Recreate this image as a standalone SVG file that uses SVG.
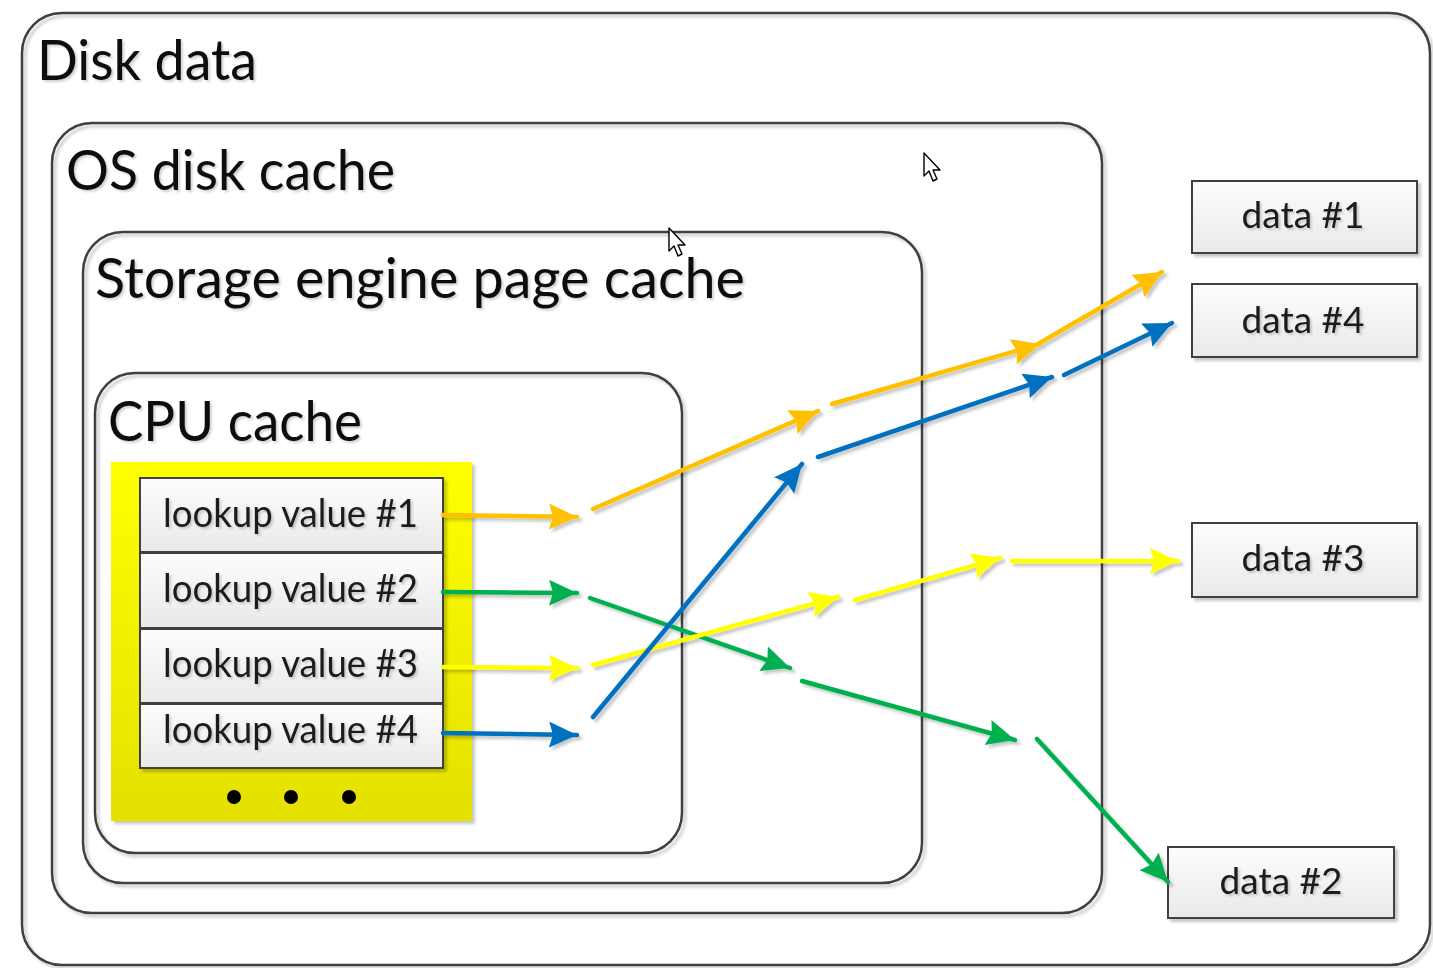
<svg xmlns="http://www.w3.org/2000/svg" width="1433" height="968" viewBox="0 0 1433 968">
  <style>
    .frame { fill: none; stroke: #3f3f3f; stroke-width: 2.5; }
    .title { font-family: Lato, "Liberation Sans", sans-serif; fill: #111; }
    .cell { fill: url(#cellFill); stroke: #3f3f3f; stroke-width: 2; }
    .label { font-family: Lato, "Liberation Sans", sans-serif; font-size: 38px; fill: #1a1a1a; }
    .data-label { text-anchor: middle; font-size: 37px; }
    .link { fill: none; stroke-width: 4.5; stroke-linecap: round; }
    .orange { stroke: #FFC000; }
    .green { stroke: #00B050; }
    .yellow { stroke: #FFFF00; }
    .blue { stroke: #0070C0; }
    .cursor { fill: #fff; stroke: #000; stroke-width: 1.4; stroke-linejoin: round; }
  </style>
  <defs>
    <linearGradient id="cellFill" x1="0" y1="0" x2="0" y2="1">
      <stop offset="0" stop-color="#FDFDFD"/>
      <stop offset="1" stop-color="#E9E9E9"/>
    </linearGradient>
    <linearGradient id="hotFill" x1="0" y1="0" x2="0" y2="1">
      <stop offset="0" stop-color="#FFFF00"/>
      <stop offset="1" stop-color="#E4E000"/>
    </linearGradient>
    <filter id="shadow" x="-10%" y="-10%" width="130%" height="130%">
      <feDropShadow dx="3" dy="3" stdDeviation="1.6" flood-color="#000" flood-opacity="0.22"/>
    </filter>
    <filter id="textShadow" x="-5%" y="-10%" width="115%" height="130%">
      <feDropShadow dx="2" dy="2" stdDeviation="1" flood-color="#000" flood-opacity="0.18"/>
    </filter>
    <marker id="headOrange" markerUnits="userSpaceOnUse" markerWidth="30" markerHeight="28" refX="28" refY="13" orient="auto">
      <path d="M0,0 L28,13 L0,26 L4,13 z" fill="#FFC000"/>
    </marker>
    <marker id="headGreen" markerUnits="userSpaceOnUse" markerWidth="30" markerHeight="28" refX="28" refY="13" orient="auto">
      <path d="M0,0 L28,13 L0,26 L4,13 z" fill="#00B050"/>
    </marker>
    <marker id="headYellow" markerUnits="userSpaceOnUse" markerWidth="30" markerHeight="28" refX="28" refY="13" orient="auto">
      <path d="M0,0 L28,13 L0,26 L4,13 z" fill="#FFFF00"/>
    </marker>
    <marker id="headBlue" markerUnits="userSpaceOnUse" markerWidth="30" markerHeight="28" refX="28" refY="13" orient="auto">
      <path d="M0,0 L28,13 L0,26 L4,13 z" fill="#0070C0"/>
    </marker>
  </defs>

  <rect width="1433" height="968" fill="#fff"/>

  <!-- nested cache layers -->
  <g id="disk-data">
    <rect class="frame" x="22" y="13" width="1408" height="952" rx="40" filter="url(#shadow)"/>
    <text class="title" x="37" y="80" font-size="56" textLength="220" lengthAdjust="spacingAndGlyphs" filter="url(#textShadow)">Disk data</text>
  </g>
  <g id="os-disk-cache">
    <rect class="frame" x="52" y="123" width="1050" height="790" rx="40" filter="url(#shadow)"/>
    <text class="title" x="66" y="190" font-size="56" textLength="329" lengthAdjust="spacingAndGlyphs" filter="url(#textShadow)">OS disk cache</text>
  </g>
  <g id="storage-engine-page-cache">
    <rect class="frame" x="83" y="232" width="839" height="651" rx="40" filter="url(#shadow)"/>
    <text class="title" x="95" y="298" font-size="56" textLength="650" lengthAdjust="spacingAndGlyphs" filter="url(#textShadow)">Storage engine page cache</text>
  </g>
  <g id="cpu-cache">
    <rect class="frame" x="95" y="373" width="587" height="480" rx="40" filter="url(#shadow)"/>
    <text class="title" x="108" y="441" font-size="56" textLength="254" lengthAdjust="spacingAndGlyphs" filter="url(#textShadow)">CPU cache</text>
  </g>

  <!-- hot lookup set -->
  <g id="lookup-set">
    <rect x="111" y="462" width="361" height="359" fill="url(#hotFill)" filter="url(#shadow)"/>
    <circle cx="234" cy="797" r="7" fill="#000"/>
    <circle cx="291" cy="797" r="7" fill="#000"/>
    <circle cx="349" cy="797" r="7" fill="#000"/>
  </g>
  <g id="lookup-1">
    <rect class="cell" x="140" y="478" width="303" height="74" filter="url(#shadow)"/>
    <text class="label" x="163" y="527" textLength="255" lengthAdjust="spacingAndGlyphs" filter="url(#textShadow)">lookup value #1</text>
  </g>
  <g id="lookup-2">
    <rect class="cell" x="140" y="553" width="303" height="75" filter="url(#shadow)"/>
    <text class="label" x="163" y="602" textLength="255" lengthAdjust="spacingAndGlyphs" filter="url(#textShadow)">lookup value #2</text>
  </g>
  <g id="lookup-3">
    <rect class="cell" x="140" y="629" width="303" height="74" filter="url(#shadow)"/>
    <text class="label" x="163" y="677" textLength="255" lengthAdjust="spacingAndGlyphs" filter="url(#textShadow)">lookup value #3</text>
  </g>
  <g id="lookup-4">
    <rect class="cell" x="140" y="704" width="303" height="64" filter="url(#shadow)"/>
    <text class="label" x="163" y="743" textLength="255" lengthAdjust="spacingAndGlyphs" filter="url(#textShadow)">lookup value #4</text>
  </g>

  <!-- data blocks on disk -->
  <g id="data-1">
    <rect class="cell" x="1192" y="181" width="225" height="72" filter="url(#shadow)"/>
    <text class="label data-label" x="1303" y="228" filter="url(#textShadow)">data #1</text>
  </g>
  <g id="data-4">
    <rect class="cell" x="1192" y="284" width="225" height="73" filter="url(#shadow)"/>
    <text class="label data-label" x="1303" y="333" filter="url(#textShadow)">data #4</text>
  </g>
  <g id="data-3">
    <rect class="cell" x="1192" y="523" width="225" height="74" filter="url(#shadow)"/>
    <text class="label data-label" x="1303" y="571" filter="url(#textShadow)">data #3</text>
  </g>
  <g id="data-2">
    <rect class="cell" x="1168" y="847" width="226" height="71" filter="url(#shadow)"/>
    <text class="label data-label" x="1281" y="894" filter="url(#textShadow)">data #2</text>
  </g>

  <!-- lookup paths, one broken hop per cache layer -->
  <g id="connectors" filter="url(#shadow)">
    <path class="link orange" d="M443,515 L577,517" marker-end="url(#headOrange)"/>
    <path class="link orange" d="M593,509 L818,411" marker-end="url(#headOrange)"/>
    <path class="link orange" d="M832,404 L1040,344" marker-end="url(#headOrange)"/>
    <path class="link orange" d="M1038,344 L1162,272" marker-end="url(#headOrange)"/>

    <path class="link green" d="M443,592 L577,593" marker-end="url(#headGreen)"/>
    <path class="link green" d="M590,598 L790,668" marker-end="url(#headGreen)"/>
    <path class="link green" d="M802,681 L1015,740" marker-end="url(#headGreen)"/>
    <path class="link green" d="M1037,739 L1168,882" marker-end="url(#headGreen)"/>

    <path class="link yellow" d="M443,667 L577,668" marker-end="url(#headYellow)"/>
    <path class="link yellow" d="M593,665 L838,597" marker-end="url(#headYellow)"/>
    <path class="link yellow" d="M855,600 L1000,558" marker-end="url(#headYellow)"/>
    <path class="link yellow" d="M1012,561 L1178,561" marker-end="url(#headYellow)"/>

    <path class="link blue" d="M443,733 L577,735" marker-end="url(#headBlue)"/>
    <path class="link blue" d="M593,717 L802,464" marker-end="url(#headBlue)"/>
    <path class="link blue" d="M818,457 L1052,377" marker-end="url(#headBlue)"/>
    <path class="link blue" d="M1064,375 L1172,323" marker-end="url(#headBlue)"/>
  </g>

  <!-- pointer glyphs -->
  <path class="cursor" d="M924,153 L924,176 L929,171 L933,181 L937,179 L933,170 L940,170 Z"/>
  <path class="cursor" d="M669,228 L669,251 L674,246 L678,256 L682,254 L678,245 L685,245 Z"/>
</svg>
